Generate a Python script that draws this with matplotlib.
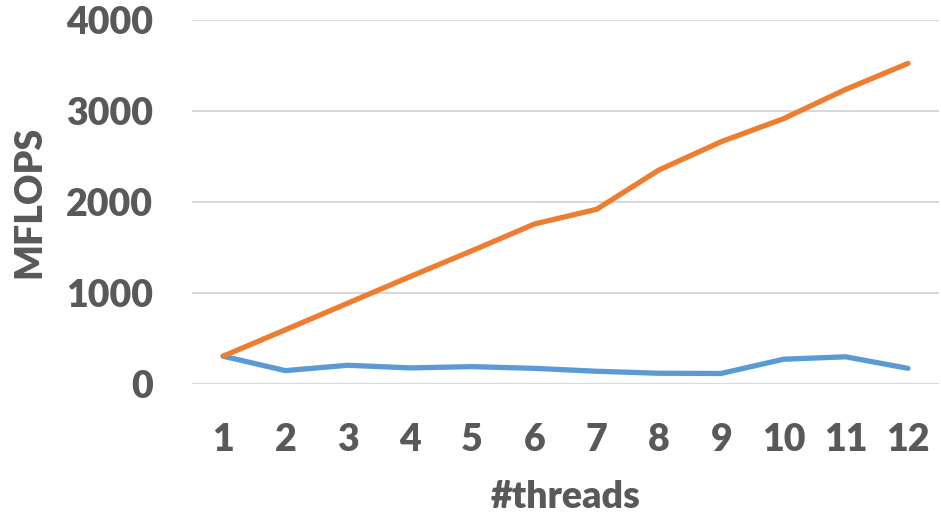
import numpy as np
import matplotlib.pyplot as plt

# MFLOPS vs number of threads
threads = np.arange(1, 13)
mflops_orange = [305, 595, 887, 1179, 1465, 1758, 1920, 2352, 2663, 2916, 3238, 3524]
mflops_blue = [305, 146, 205, 176, 190, 171, 139, 117, 115, 271, 298, 171]

plt.rcParams['font.family'] = ['Lato', 'DejaVu Sans']
grey = '#595959'
weight = 'heavy'

fig = plt.figure(figsize=(9.41, 5.16), dpi=100)
ax = fig.add_axes([0.204, 0.256, 0.794, 0.705])

ax.plot(threads, mflops_blue, color='#5B9BD5', lw=3.8, solid_capstyle='round', zorder=3)
ax.plot(threads, mflops_orange, color='#ED7D31', lw=3.8, solid_capstyle='round', zorder=3)

ax.set_xlim(0.5, 12.5)
ax.set_ylim(0, 4000)
ax.set_yticks([0, 1000, 2000, 3000, 4000])
ax.set_xticks(threads)
ax.grid(axis='y', color='#D9D9D9', lw=1.5, zorder=0)
ax.set_axisbelow(True)
for s in ax.spines.values():
    s.set_visible(False)
ax.tick_params(length=0, labelsize=27, labelcolor=grey)
ax.tick_params(axis='y', pad=28)
ax.tick_params(axis='x', pad=28)
for lbl in ax.get_xticklabels() + ax.get_yticklabels():
    lbl.set_fontweight(weight)

ax.set_xlabel('#threads', fontsize=27, fontweight=weight, color=grey, va='center')
ax.xaxis.set_label_coords(0.5, -0.31)
ax.set_ylabel('MFLOPS', fontsize=27, fontweight=weight, color=grey, va='center', ha='center')
ax.yaxis.set_label_coords(-0.217, 0.5)

fig.savefig('out.png', dpi=100)
